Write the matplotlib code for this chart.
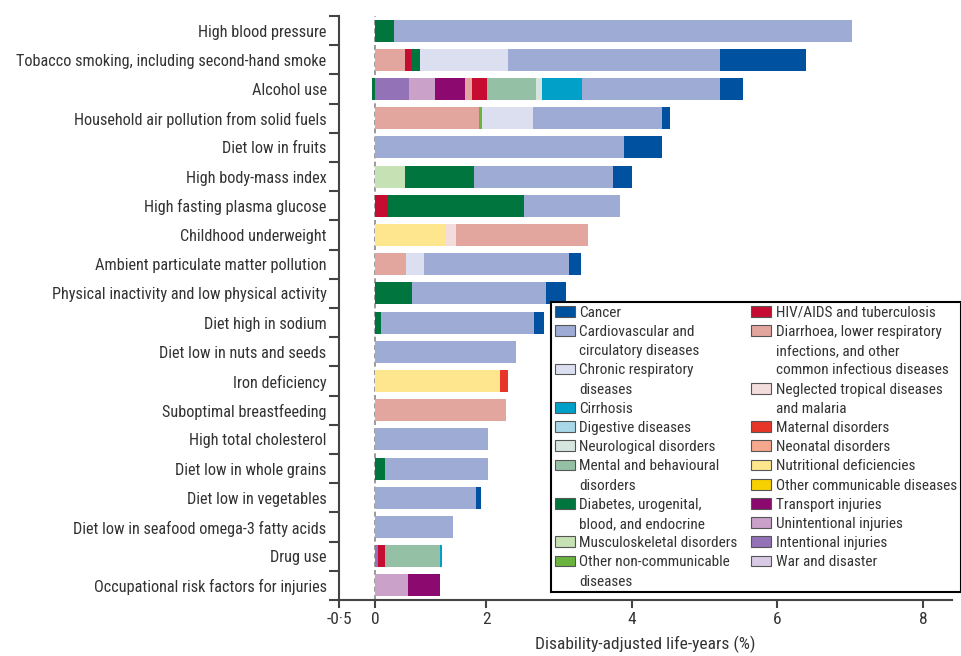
import numpy as np
import matplotlib.pyplot as plt
from matplotlib.patches import Patch

plt.rcParams["font.family"] = ["Roboto Condensed", "Lato", "DejaVu Sans"]

RISKS = [
    "High blood pressure",
    "Tobacco smoking, including second-hand smoke",
    "Alcohol use",
    "Household air pollution from solid fuels",
    "Diet low in fruits",
    "High body-mass index",
    "High fasting plasma glucose",
    "Childhood underweight",
    "Ambient particulate matter pollution",
    "Physical inactivity and low physical activity",
    "Diet high in sodium",
    "Diet low in nuts and seeds",
    "Iron deficiency",
    "Suboptimal breastfeeding",
    "High total cholesterol",
    "Diet low in whole grains",
    "Diet low in vegetables",
    "Diet low in seafood omega-3 fatty acids",
    "Drug use",
    "Occupational risk factors for injuries",
]

# attributable DALYs (%) by cause group, one value per risk factor (same order as RISKS)
cancer =        [0, 1.19, 0.32, 0.11, 0.52, 0.26, 0, 0, 0.16, 0.28, 0.13, 0, 0, 0, 0, 0, 0.09, 0, 0, 0]
cardio =        [6.69, 2.91, 1.89, 1.78, 3.89, 1.97, 1.32, 0, 2.26, 2.15, 2.55, 2.41, 0, 0, 2.03, 1.85, 1.82, 1.41, 0, 0]
chronic_resp =  [0, 1.49, 0, 0.71, 0, 0, 0, 0, 0.32, 0, 0, 0, 0, 0, 0, 0, 0, 0, 0, 0]
cirrhosis =     [0, 0, 0.55, 0, 0, 0, 0, 0, 0, 0, 0, 0, 0, 0, 0, 0, 0, 0, 0.03, 0]
digestive =     [0] * 20
neurological =  [0, 0, 0.09, 0, 0, 0, 0, 0, 0, 0, 0, 0, 0, 0, 0, 0, 0, 0, 0, 0]
mental =        [0, 0, 0.67, 0, 0, 0, 0, 0, 0, 0, 0, 0, 0, 0, 0, 0, 0, 0, 0.99, 0]
diabetes =      [0.34, 0.16, -0.05, 0, 0, 1.24, 2.30, 0, 0, 0.67, 0.11, 0, 0, 0, 0, 0.18, 0, 0, 0, 0]
musculo =       [0, 0, 0, 0, 0, 0.54, 0, 0, 0, 0, 0, 0, 0, 0, 0, 0, 0, 0, 0, 0]
other_ncd =     [0, 0, 0, 0.06, 0, 0, 0, 0, 0, 0, 0, 0, 0, 0, 0, 0, 0, 0, 0, 0]
hiv_tb =        [0, 0.11, 0.26, 0, 0, 0, 0.22, 0, 0, 0, 0, 0, 0, 0, 0, 0, 0, 0, 0.13, 0]
diarrhoea =     [0, 0.54, 0.13, 1.87, 0, 0, 0, 1.94, 0.56, 0, 0, 0, 0, 2.27, 0, 0, 0, 0, 0, 0]
ntd_malaria =   [0, 0, 0, 0, 0, 0, 0, 0.18, 0, 0, 0, 0, 0, 0, 0, 0, 0, 0, 0, 0]
maternal =      [0, 0, 0, 0, 0, 0, 0, 0, 0, 0, 0, 0, 0.11, 0, 0, 0, 0, 0, 0, 0]
neonatal =      [0] * 20
nutritional =   [0, 0, 0, 0, 0, 0, 0, 1.28, 0, 0, 0, 0, 2.19, 0, 0, 0, 0, 0, 0, 0]
other_comm =    [0] * 20
transport =     [0, 0, 0.54, 0, 0, 0, 0, 0, 0, 0, 0, 0, 0, 0, 0, 0, 0, 0, 0, 0.58]
unintentional = [0, 0, 0.47, 0, 0, 0, 0, 0, 0, 0, 0, 0, 0, 0, 0, 0, 0, 0, 0, 0.59]
intentional =   [0, 0, 0.61, 0, 0, 0, 0, 0, 0, 0, 0, 0, 0, 0, 0, 0, 0, 0, 0.05, 0]
war =           [0] * 20

# legend order (two columns: non-communicable first, then the rest)
CAUSE_KEYS = ["cancer", "cardio", "chronic_resp", "cirrhosis", "digestive", "neurological",
              "mental", "diabetes", "musculo", "other_ncd",
              "hiv_tb", "diarrhoea", "ntd_malaria", "maternal", "neonatal", "nutritional",
              "other_comm", "transport", "unintentional", "intentional", "war"]
CAUSE_LABELS = [
    "Cancer",
    "Cardiovascular and\ncirculatory diseases",
    "Chronic respiratory\ndiseases",
    "Cirrhosis",
    "Digestive diseases",
    "Neurological disorders",
    "Mental and behavioural\ndisorders",
    "Diabetes, urogenital,\nblood, and endocrine",
    "Musculoskeletal disorders",
    "Other non-communicable\ndiseases",
    "HIV/AIDS and tuberculosis",
    "Diarrhoea, lower respiratory\ninfections, and other\ncommon infectious diseases",
    "Neglected tropical diseases\nand malaria",
    "Maternal disorders",
    "Neonatal disorders",
    "Nutritional deficiencies",
    "Other communicable diseases",
    "Transport injuries",
    "Unintentional injuries",
    "Intentional injuries",
    "War and disaster",
]
CAUSE_COLORS = ["#0051a0", "#9eabd4", "#dcdff0", "#00a0c8", "#a8d8e8", "#d6e6de",
                "#94c1a6", "#00763e", "#c6e1b4", "#6bb33f",
                "#c60c30", "#e3a69e", "#f3dcdc", "#e8352a", "#f5a88e", "#fee68e",
                "#f7d000", "#8c0a70", "#c9a1c9", "#9472b8", "#d8cae4"]

# left-to-right order of the segments inside each bar
STACK_ORDER = ["intentional", "unintentional", "transport", "nutritional", "ntd_malaria",
               "maternal", "neonatal", "other_comm", "diarrhoea", "hiv_tb", "musculo",
               "diabetes", "other_ncd", "mental", "neurological", "digestive", "cirrhosis",
               "chronic_resp", "war", "cardio", "cancer"]

TICK_VALUES = [-0.5, 0, 2, 4, 6, 8]
TICK_LABELS = ["-0\u00b75", "0", "2", "4", "6", "8"]

# the axis is drawn with the 0-2 stretch compressed
K = 0.76


def _fwd(x):
    x = np.asarray(x, dtype=float)
    return np.where(x < 0, x, np.where(x < 2, x * K, x - 2 + 2 * K))


def _inv(y):
    y = np.asarray(y, dtype=float)
    return np.where(y < 0, y, np.where(y < 2 * K, y / K, y + 2 - 2 * K))


def main():
    data = {k: np.array(globals()[k], dtype=float) for k in CAUSE_KEYS}
    color = dict(zip(CAUSE_KEYS, CAUSE_COLORS))

    fig = plt.figure(figsize=(9.61, 6.56), dpi=100)
    ax = fig.add_axes([339 / 961, 1 - 600 / 656, (952 - 339) / 961, (600 - 16) / 656])
    ax.set_xscale("function", functions=(_fwd, _inv))

    y = np.arange(len(RISKS))
    pos = np.zeros(len(RISKS))
    neg = np.zeros(len(RISKS))
    for key in STACK_ORDER:
        vals = data[key]
        left = np.where(vals >= 0, pos, neg)
        ax.barh(y, vals, left=left, height=0.76, color=color[key], linewidth=0, zorder=2)
        pos += np.clip(vals, 0, None)
        neg += np.clip(vals, None, 0)

    ax.axvline(0, color="#8a8a8a", linestyle=(0, (3, 2)), linewidth=1.2, zorder=1)

    ax.set_ylim(len(RISKS) - 0.5, -0.5)
    ax.set_xlim(-0.5, 8.4)
    ax.set_yticks(y)
    ax.set_yticklabels(RISKS, fontsize=11.7, color="#333333")
    ax.set_yticks(np.arange(len(RISKS) + 1) - 0.5, minor=True)
    ax.tick_params(axis="y", which="major", length=0, pad=9)
    ax.tick_params(axis="y", which="minor", length=7, width=1.5, color="#444444")
    ax.set_xticks(TICK_VALUES)
    ax.set_xticklabels(TICK_LABELS, fontsize=12.5, color="#333333")
    ax.tick_params(axis="x", which="major", length=6, width=1.5, color="#444444", pad=3)
    ax.xaxis.set_minor_locator(plt.NullLocator())
    ax.set_xlabel("Disability-adjusted life-years (%)", fontsize=12.5, color="#333333", labelpad=6)

    for side in ["top", "right"]:
        ax.spines[side].set_visible(False)
    for side in ["left", "bottom"]:
        ax.spines[side].set_linewidth(1.5)
        ax.spines[side].set_color("#444444")

    # one legend row per text line so wrapped labels keep an even line pitch
    handles, labels = [], []
    for key, label in zip(CAUSE_KEYS, CAUSE_LABELS):
        lines = label.split("\n")
        handles.append(Patch(facecolor=color[key], edgecolor="#555555", linewidth=0.8))
        labels.append(lines[0])
        for extra in lines[1:]:
            handles.append(Patch(facecolor="none", edgecolor="none"))
            labels.append(extra)

    leg = fig.legend(handles, labels, ncol=2, loc="upper left",
                     bbox_to_anchor=(551 / 961, 1 - 302 / 656), bbox_transform=fig.transFigure,
                     fontsize=11, frameon=True, fancybox=False, framealpha=1,
                     edgecolor="black", borderpad=0.25, borderaxespad=0,
                     labelspacing=0.34, handlelength=1.3, handleheight=0.7,
                     handletextpad=0.3, columnspacing=0.9)
    leg.get_frame().set_linewidth(1.5)
    for t in leg.get_texts():
        t.set_color("#333333")

    fig.savefig("out.png", dpi=100)


if __name__ == "__main__":
    main()
